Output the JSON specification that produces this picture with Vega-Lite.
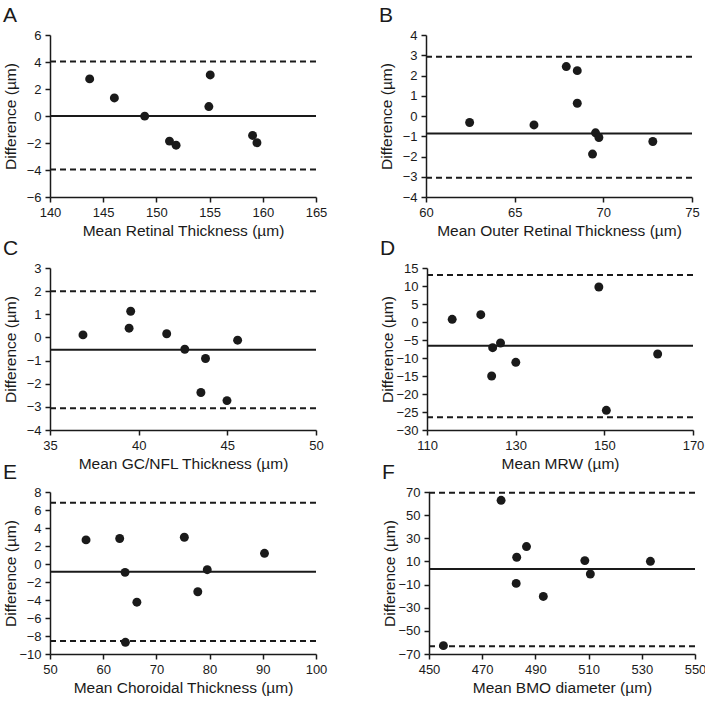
{
  "$schema": "https://vega.github.io/schema/vega-lite/v6.json",
  "background": "white",
  "padding": {"left": 3, "top": 5, "right": 2, "bottom": 2},
  "datasets": {
    "pts": [
      {"panel": "A", "mean": 143.73, "diff": 2.75},
      {"panel": "A", "mean": 146.05, "diff": 1.34},
      {"panel": "A", "mean": 148.9, "diff": -0.01},
      {"panel": "A", "mean": 151.23, "diff": -1.86},
      {"panel": "A", "mean": 151.85, "diff": -2.16},
      {"panel": "A", "mean": 155.06, "diff": 3.04},
      {"panel": "A", "mean": 154.93, "diff": 0.7},
      {"panel": "A", "mean": 159.04, "diff": -1.44},
      {"panel": "A", "mean": 159.45, "diff": -1.98},
      {"panel": "B", "mean": 62.46, "diff": -0.32},
      {"panel": "B", "mean": 66.09, "diff": -0.44},
      {"panel": "B", "mean": 67.91, "diff": 2.44},
      {"panel": "B", "mean": 68.53, "diff": 2.24},
      {"panel": "B", "mean": 68.53, "diff": 0.63},
      {"panel": "B", "mean": 69.56, "diff": -0.83},
      {"panel": "B", "mean": 69.75, "diff": -1.06},
      {"panel": "B", "mean": 69.39, "diff": -1.88},
      {"panel": "B", "mean": 72.79, "diff": -1.26},
      {"panel": "C", "mean": 36.86, "diff": 0.11},
      {"panel": "C", "mean": 39.46, "diff": 0.4},
      {"panel": "C", "mean": 39.55, "diff": 1.13},
      {"panel": "C", "mean": 41.58, "diff": 0.16},
      {"panel": "C", "mean": 42.6, "diff": -0.51},
      {"panel": "C", "mean": 43.77, "diff": -0.91},
      {"panel": "C", "mean": 43.51, "diff": -2.38},
      {"panel": "C", "mean": 44.98, "diff": -2.73},
      {"panel": "C", "mean": 45.58, "diff": -0.12},
      {"panel": "D", "mean": 115.68, "diff": 0.74},
      {"panel": "D", "mean": 122.13, "diff": 2.04},
      {"panel": "D", "mean": 126.58, "diff": -5.83},
      {"panel": "D", "mean": 124.81, "diff": -7.13},
      {"panel": "D", "mean": 124.58, "diff": -15.0},
      {"panel": "D", "mean": 130.03, "diff": -11.2},
      {"panel": "D", "mean": 148.76, "diff": 9.72},
      {"panel": "D", "mean": 150.45, "diff": -24.54},
      {"panel": "D", "mean": 162.03, "diff": -8.89},
      {"panel": "E", "mean": 56.77, "diff": 2.68},
      {"panel": "E", "mean": 63.1, "diff": 2.83},
      {"panel": "E", "mean": 64.11, "diff": -0.93},
      {"panel": "E", "mean": 66.33, "diff": -4.24},
      {"panel": "E", "mean": 64.18, "diff": -8.7},
      {"panel": "E", "mean": 75.25, "diff": 2.97},
      {"panel": "E", "mean": 77.78, "diff": -3.08},
      {"panel": "E", "mean": 79.56, "diff": -0.63},
      {"panel": "E", "mean": 90.32, "diff": 1.19},
      {"panel": "F", "mean": 477.1, "diff": 62.8},
      {"panel": "F", "mean": 482.97, "diff": 13.6},
      {"panel": "F", "mean": 486.65, "diff": 22.85},
      {"panel": "F", "mean": 482.77, "diff": -8.97},
      {"panel": "F", "mean": 492.97, "diff": -20.25},
      {"panel": "F", "mean": 508.58, "diff": 10.7},
      {"panel": "F", "mean": 510.65, "diff": -0.87},
      {"panel": "F", "mean": 533.23, "diff": 10.1},
      {"panel": "F", "mean": 455.42, "diff": -62.77}
    ],
    "lines": [
      {"panel": "A", "kind": "mean", "diff": 0},
      {"panel": "A", "kind": "loa", "diff": 4.03},
      {"panel": "A", "kind": "loa", "diff": -3.96},
      {"panel": "B", "kind": "mean", "diff": -0.86},
      {"panel": "B", "kind": "loa", "diff": 2.93},
      {"panel": "B", "kind": "loa", "diff": -3.05},
      {"panel": "C", "kind": "mean", "diff": -0.53},
      {"panel": "C", "kind": "loa", "diff": 1.99},
      {"panel": "C", "kind": "loa", "diff": -3.06},
      {"panel": "D", "kind": "mean", "diff": -6.57},
      {"panel": "D", "kind": "loa", "diff": 13.06},
      {"panel": "D", "kind": "loa", "diff": -26.48},
      {"panel": "E", "kind": "mean", "diff": -0.85},
      {"panel": "E", "kind": "loa", "diff": 6.81},
      {"panel": "E", "kind": "loa", "diff": -8.55},
      {"panel": "F", "kind": "mean", "diff": 3.47},
      {"panel": "F", "kind": "loa", "diff": 69.4},
      {"panel": "F", "kind": "loa", "diff": -63.35}
    ]
  },
  "spacing": -1,
  "vconcat": [
    {
      "spacing": 52,
      "hconcat": [
        {
          "title": {"text": "A"},
          "width": 266, "height": 162,
          "encoding": {"y": {"field": "diff", "type": "quantitative", "scale": {"domain": [-6, 6], "nice": false, "zero": false}, "axis": {"title": "Difference (µm)", "values": [-6, -4, -2, 0, 2, 4, 6]}}},
          "layer": [
            {"data": {"name": "lines"}, "transform": [{"filter": "datum.panel === 'A' && datum.kind === 'loa'"}], "mark": {"type": "rule", "strokeDash": [6, 4], "strokeWidth": 2, "color": "#1a1a1a"}, "encoding": {}},
            {"data": {"name": "lines"}, "transform": [{"filter": "datum.panel === 'A' && datum.kind === 'mean'"}], "mark": {"type": "rule", "strokeWidth": 2, "color": "#1a1a1a"}, "encoding": {}},
            {"data": {"name": "pts"}, "transform": [{"filter": "datum.panel === 'A'"}], "mark": {"type": "circle", "size": 80, "opacity": 1, "color": "#1a1a1a"},
             "encoding": {"x": {"field": "mean", "type": "quantitative", "scale": {"domain": [140, 165], "nice": false, "zero": false}, "axis": {"title": "Mean Retinal Thickness (µm)", "values": [140, 145, 150, 155, 160, 165]}}}}
          ]
        },
        {
          "title": {"text": "B"},
          "width": 266, "height": 162,
          "encoding": {"y": {"field": "diff", "type": "quantitative", "scale": {"domain": [-4, 4], "nice": false, "zero": false}, "axis": {"title": "Difference (µm)", "values": [-4, -3, -2, -1, 0, 1, 2, 3, 4]}}},
          "layer": [
            {"data": {"name": "lines"}, "transform": [{"filter": "datum.panel === 'B' && datum.kind === 'loa'"}], "mark": {"type": "rule", "strokeDash": [6, 4], "strokeWidth": 2, "color": "#1a1a1a"}, "encoding": {}},
            {"data": {"name": "lines"}, "transform": [{"filter": "datum.panel === 'B' && datum.kind === 'mean'"}], "mark": {"type": "rule", "strokeWidth": 2, "color": "#1a1a1a"}, "encoding": {}},
            {"data": {"name": "pts"}, "transform": [{"filter": "datum.panel === 'B'"}], "mark": {"type": "circle", "size": 80, "opacity": 1, "color": "#1a1a1a"},
             "encoding": {"x": {"field": "mean", "type": "quantitative", "scale": {"domain": [60, 75], "nice": false, "zero": false}, "axis": {"title": "Mean Outer Retinal Thickness (µm)", "values": [60, 65, 70, 75]}}}}
          ]
        }
      ]
    },
    {
      "spacing": -10,
      "vconcat": [
        {
          "spacing": 56,
          "hconcat": [
            {
              "title": {"text": "C"},
              "width": 266, "height": 162,
              "encoding": {"y": {"field": "diff", "type": "quantitative", "scale": {"domain": [-4, 3], "nice": false, "zero": false}, "axis": {"title": "Difference (µm)", "values": [-4, -3, -2, -1, 0, 1, 2, 3]}}},
              "layer": [
                {"data": {"name": "lines"}, "transform": [{"filter": "datum.panel === 'C' && datum.kind === 'loa'"}], "mark": {"type": "rule", "strokeDash": [6, 4], "strokeWidth": 2, "color": "#1a1a1a"}, "encoding": {}},
                {"data": {"name": "lines"}, "transform": [{"filter": "datum.panel === 'C' && datum.kind === 'mean'"}], "mark": {"type": "rule", "strokeWidth": 2, "color": "#1a1a1a"}, "encoding": {}},
                {"data": {"name": "pts"}, "transform": [{"filter": "datum.panel === 'C'"}], "mark": {"type": "circle", "size": 80, "opacity": 1, "color": "#1a1a1a"},
                 "encoding": {"x": {"field": "mean", "type": "quantitative", "scale": {"domain": [35, 50], "nice": false, "zero": false}, "axis": {"title": "Mean GC/NFL Thickness (µm)", "values": [35, 40, 45, 50]}}}}
              ]
            },
            {
              "title": {"text": "D"},
              "width": 266, "height": 162,
              "encoding": {"y": {"field": "diff", "type": "quantitative", "scale": {"domain": [-30, 15], "nice": false, "zero": false}, "axis": {"title": "Difference (µm)", "values": [-30, -25, -20, -15, -10, -5, 0, 5, 10, 15]}}},
              "layer": [
                {"data": {"name": "lines"}, "transform": [{"filter": "datum.panel === 'D' && datum.kind === 'loa'"}], "mark": {"type": "rule", "strokeDash": [6, 4], "strokeWidth": 2, "color": "#1a1a1a"}, "encoding": {}},
                {"data": {"name": "lines"}, "transform": [{"filter": "datum.panel === 'D' && datum.kind === 'mean'"}], "mark": {"type": "rule", "strokeWidth": 2, "color": "#1a1a1a"}, "encoding": {}},
                {"data": {"name": "pts"}, "transform": [{"filter": "datum.panel === 'D'"}], "mark": {"type": "circle", "size": 80, "opacity": 1, "color": "#1a1a1a"},
                 "encoding": {"x": {"field": "mean", "type": "quantitative", "scale": {"domain": [110, 170], "nice": false, "zero": false}, "axis": {"title": "Mean MRW (µm)", "values": [110, 130, 150, 170]}}}}
              ]
            }
          ]
        },
        {
          "spacing": 55,
          "hconcat": [
            {
              "title": {"text": "E"},
              "width": 266, "height": 162,
              "encoding": {"y": {"field": "diff", "type": "quantitative", "scale": {"domain": [-10, 8], "nice": false, "zero": false}, "axis": {"title": "Difference (µm)", "values": [-10, -8, -6, -4, -2, 0, 2, 4, 6, 8]}}},
              "layer": [
                {"data": {"name": "lines"}, "transform": [{"filter": "datum.panel === 'E' && datum.kind === 'loa'"}], "mark": {"type": "rule", "strokeDash": [6, 4], "strokeWidth": 2, "color": "#1a1a1a"}, "encoding": {}},
                {"data": {"name": "lines"}, "transform": [{"filter": "datum.panel === 'E' && datum.kind === 'mean'"}], "mark": {"type": "rule", "strokeWidth": 2, "color": "#1a1a1a"}, "encoding": {}},
                {"data": {"name": "pts"}, "transform": [{"filter": "datum.panel === 'E'"}], "mark": {"type": "circle", "size": 80, "opacity": 1, "color": "#1a1a1a"},
                 "encoding": {"x": {"field": "mean", "type": "quantitative", "scale": {"domain": [50, 100], "nice": false, "zero": false}, "axis": {"title": "Mean Choroidal Thickness (µm)", "values": [50, 60, 70, 80, 90, 100]}}}}
              ]
            },
            {
              "title": {"text": "F"},
              "width": 266, "height": 162,
              "encoding": {"y": {"field": "diff", "type": "quantitative", "scale": {"domain": [-70, 70], "nice": false, "zero": false}, "axis": {"title": "Difference (µm)", "values": [-70, -50, -30, -10, 10, 30, 50, 70]}}},
              "layer": [
                {"data": {"name": "lines"}, "transform": [{"filter": "datum.panel === 'F' && datum.kind === 'loa'"}], "mark": {"type": "rule", "strokeDash": [6, 4], "strokeWidth": 2, "color": "#1a1a1a"}, "encoding": {}},
                {"data": {"name": "lines"}, "transform": [{"filter": "datum.panel === 'F' && datum.kind === 'mean'"}], "mark": {"type": "rule", "strokeWidth": 2, "color": "#1a1a1a"}, "encoding": {}},
                {"data": {"name": "pts"}, "transform": [{"filter": "datum.panel === 'F'"}], "mark": {"type": "circle", "size": 80, "opacity": 1, "color": "#1a1a1a"},
                 "encoding": {"x": {"field": "mean", "type": "quantitative", "scale": {"domain": [450, 550], "nice": false, "zero": false}, "axis": {"title": "Mean BMO diameter (µm)", "values": [450, 470, 490, 510, 530, 550]}}}}
              ]
            }
          ]
        }
      ]
    }
  ],
  "config": {
    "font": "Liberation Sans",
    "view": {"stroke": null},
    "title": {"anchor": "start", "frame": "bounds", "fontSize": 21, "fontWeight": "normal", "color": "#1a1a1a", "offset": 3},
    "axis": {
      "grid": false,
      "domainColor": "#1a1a1a",
      "domainWidth": 1.5,
      "tickColor": "#1a1a1a",
      "tickWidth": 1.5,
      "tickSize": 5,
      "labelFontSize": 13,
      "labelColor": "#1a1a1a",
      "labelOverlap": false,
      "labelFlush": false,
      "titleFontSize": 15.5,
      "titleFontWeight": "normal",
      "titleColor": "#1a1a1a",
      "labelPadding": 4
    },
    "axisX": {"titlePadding": 4},
    "axisY": {"minExtent": 29, "maxExtent": 29, "titlePadding": 3}
  }
}
